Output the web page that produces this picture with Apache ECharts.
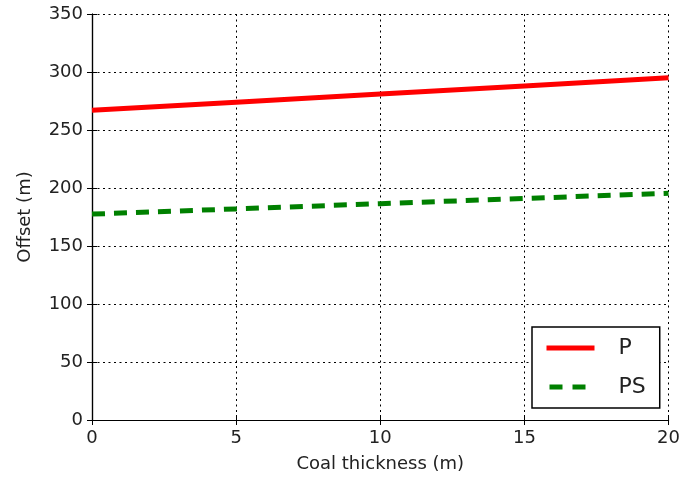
<!DOCTYPE html>
<html>
<head>
<meta charset="UTF-8" />
<title>Offset vs coal thickness</title>
<style>
  html, body { margin: 0; padding: 0; background: #fff; }
  #chart { width: 683px; height: 479px; }
</style>
</head>
<body>
<div id="chart"></div>
<script src="https://cdn.jsdelivr.net/npm/echarts@6/dist/echarts.min.js"></script>
<script>
// values
const thickness = [0, 5, 10, 15, 20];
const offsetP = [267, 274, 281, 288, 295];
const offsetPS = [177.5, 182, 186.5, 191, 195.5];

const font = 'DejaVu Sans';
const pairs = (xs, ys) => xs.map((x, i) => [x, ys[i]]);

const tickStyle = { inside: true, length: 5, lineStyle: { color: '#000', width: 1 } };
const gridLine = { show: true, lineStyle: { color: '#000', width: 1, type: [2, 3.5] } };
const frame = { show: true, lineStyle: { color: '#000', width: 1.2 } };

echarts.init(document.getElementById('chart')).setOption({
  animation: false,
  grid: { left: 92, right: 11, top: 14, bottom: 59 },
  xAxis: [{
    type: 'value', min: 0, max: 20, interval: 5,
    name: 'Coal thickness (m)', nameLocation: 'middle', nameGap: 35,
    nameTextStyle: { fontFamily: font, fontSize: 18, color: '#222' },
    axisLine: frame, axisTick: tickStyle, splitLine: gridLine,
    axisLabel: { fontFamily: font, fontSize: 18, color: '#222', margin: 9 }
  }, {
    type: 'value', position: 'top', min: 0, max: 20, interval: 5,
    axisLine: frame, axisTick: tickStyle, splitLine: { show: false },
    axisLabel: { show: false }
  }],
  yAxis: [{
    type: 'value', min: 0, max: 350, interval: 50,
    name: 'Offset (m)', nameLocation: 'middle', nameGap: 58,
    nameTextStyle: { fontFamily: font, fontSize: 18, color: '#222' },
    axisLine: frame, axisTick: tickStyle, splitLine: gridLine,
    axisLabel: { fontFamily: font, fontSize: 18, color: '#222', margin: 9 }
  }, {
    type: 'value', position: 'right', min: 0, max: 350, interval: 50,
    axisLine: frame, axisTick: tickStyle, splitLine: { show: false },
    axisLabel: { show: false }
  }],
  legend: {
    orient: 'vertical', left: 532, top: 327,
    padding: [7, 14, 7, 12], itemGap: 11,
    itemWidth: 48, itemHeight: 14,
    itemStyle: { opacity: 0 },
    lineStyle: { width: 5 },
    borderColor: '#000', borderWidth: 1.5, backgroundColor: '#fff',
    textStyle: { fontFamily: font, fontSize: 22, color: '#222', lineHeight: 28, padding: [0, 0, 0, 19] },
    data: ['P', { name: 'PS', lineStyle: { width: 5, type: [13, 10], dashOffset: 20 } }]
  },
  series: [{
    name: 'P', type: 'line', showSymbol: false, symbol: 'none',
    data: pairs(thickness, offsetP),
    lineStyle: { color: '#ff0000', width: 5 }, itemStyle: { color: '#ff0000' }
  }, {
    name: 'PS', type: 'line', showSymbol: false, symbol: 'none',
    data: pairs(thickness, offsetPS),
    lineStyle: { color: '#008000', width: 5, type: [13, 9] }, itemStyle: { color: '#008000' }
  }]
});
</script>
</body>
</html>
